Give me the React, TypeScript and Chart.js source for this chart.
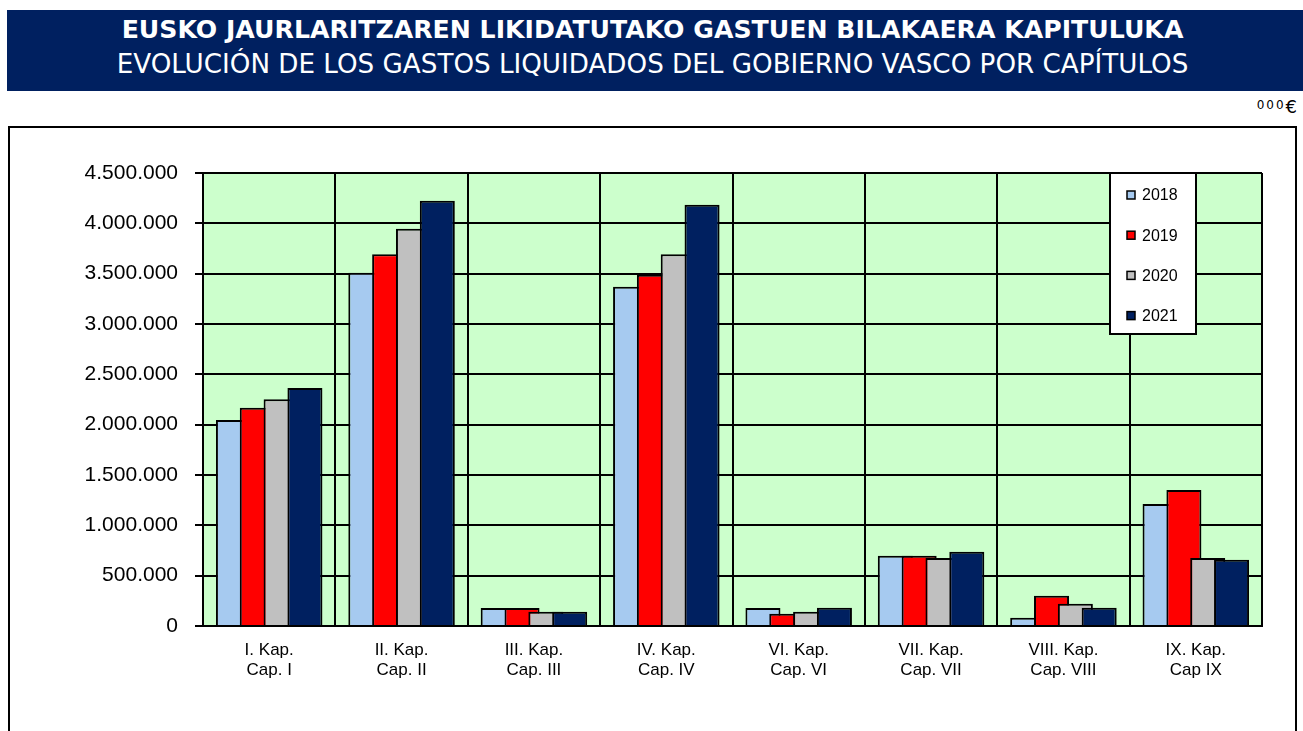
import React, { useEffect, useRef } from "react";
import { Chart, registerables } from "chart.js";

Chart.register(...registerables);

// ---------- data ----------
const categories: string[][] = [
  ["I. Kap.", "Cap. I"],
  ["II. Kap.", "Cap. II"],
  ["III. Kap.", "Cap. III"],
  ["IV. Kap.", "Cap. IV"],
  ["VI. Kap.", "Cap. VI"],
  ["VII. Kap.", "Cap. VII"],
  ["VIII. Kap.", "Cap. VIII"],
  ["IX. Kap.", "Cap IX"],
];

const seriesNames = ["2018", "2019", "2020", "2021"];

const values2018 = [2046000, 3510000, 179000, 3371000, 179000, 698000, 83000, 1212000];
const values2019 = [2169000, 3693000, 179000, 3490000, 122000, 698000, 301000, 1351000];
const values2020 = [2252000, 3947000, 142000, 3693000, 142000, 675000, 222000, 675000];
const values2021 = [2364000, 4225000, 142000, 4185000, 182000, 738000, 182000, 659000];

const yMin = 0;
const yMax = 4500000;
const yStep = 500000;

const titleLine1 = "EUSKO JAURLARITZAREN LIKIDATUTAKO GASTUEN BILAKAERA KAPITULUKA";
const titleLine2 = "EVOLUCIÓN DE LOS GASTOS LIQUIDADOS DEL GOBIERNO VASCO POR CAPÍTULOS";
const unitSmall = "000";
const unitSymbol = "€";

// ---------- styles ----------
const seriesColors = ["#A6CAF0", "#FF0000", "#C0C0C0", "#002060"];
const NAVY = "#002060";
const PLOT_BG = "#CCFFCC";
const AXIS_FONT = "'Liberation Sans', Arial, sans-serif";

const fmt = (v: number) => String(v).replace(/\B(?=(\d{3})+(?!\d))/g, ".");

const plotBgPlugin = {
  id: "plotBg",
  beforeDraw(chart: any) {
    const { ctx, chartArea } = chart;
    ctx.save();
    ctx.fillStyle = PLOT_BG;
    ctx.fillRect(chartArea.left, chartArea.top, chartArea.right - chartArea.left, chartArea.bottom - chartArea.top);
    ctx.restore();
  },
};

// draw datasets first-to-last so later years overlap earlier ones
const drawOrderPlugin = {
  id: "drawOrder",
  beforeDatasetsDraw(chart: any) {
    const n = chart.data.datasets.length;
    for (let i = 0; i < n; i++) {
      const meta = chart.getDatasetMeta(i);
      if (chart.isDatasetVisible(i)) meta.controller.draw();
    }
    return false;
  },
};

const boxLegendPlugin = {
  id: "boxLegend",
  afterDraw(chart: any) {
    const { ctx, chartArea } = chart;
    const left = chartArea.right - 152;
    const top = chartArea.top;
    const w = 86;
    const h = 161;
    ctx.save();
    ctx.fillStyle = "#fff";
    ctx.fillRect(left, top, w, h);
    ctx.strokeStyle = "#000";
    ctx.lineWidth = 2;
    ctx.strokeRect(left, top, w, h);
    ctx.font = `16px ${AXIS_FONT}`;
    ctx.textBaseline = "middle";
    ctx.textAlign = "left";
    chart.data.datasets.forEach((ds: any, i: number) => {
      const cy = top + 22 + i * 40.2;
      ctx.fillStyle = ds.backgroundColor;
      ctx.fillRect(left + 17, cy - 4, 8, 8);
      ctx.lineWidth = 1.5;
      ctx.strokeStyle = "#000";
      ctx.strokeRect(left + 17, cy - 4, 8, 8);
      ctx.fillStyle = "#000";
      ctx.fillText(ds.label, left + 32, cy + 1);
    });
    ctx.restore();
  },
};

function ChartCanvas() {
  const ref = useRef<HTMLCanvasElement | null>(null);
  useEffect(() => {
    if (!ref.current) return;
    const seriesValues = [values2018, values2019, values2020, values2021];
    const chart = new Chart(ref.current, {
      type: "bar",
      data: {
        labels: categories,
        datasets: seriesNames.map((name, i) => ({
          label: name,
          data: seriesValues[i],
          backgroundColor: seriesColors[i],
          borderColor: "#000",
          borderWidth: 2,
          categoryPercentage: 0.72,
          barPercentage: 1.47,
        })),
      },
      options: {
        responsive: false,
        animation: false,
        events: [],
        layout: { padding: { left: 0, top: 45, right: 32, bottom: 0 } },
        plugins: {
          legend: { display: false },
          tooltip: { enabled: false },
          title: { display: false },
        },
        scales: {
          x: {
            offset: true,
            grid: {
              offset: true,
              color: "#000",
              lineWidth: 2,
              drawTicks: false,
            },
            border: { color: "#000", width: 2, z: 1 },
            ticks: {
              color: "#000",
              font: { family: AXIS_FONT, size: 17, lineHeight: "20px" },
              padding: 14,
              maxRotation: 0,
              autoSkip: false,
            },
            afterFit: (scale: any) => {
              scale.height = 105;
            },
          },
          y: {
            min: yMin,
            max: yMax,
            grid: {
              color: "#000",
              lineWidth: 2,
              drawTicks: true,
              tickLength: 8,
              tickColor: "#000",
              tickWidth: 2,
            },
            border: { color: "#000", width: 2, z: 1 },
            ticks: {
              stepSize: yStep,
              color: "#000",
              font: { family: AXIS_FONT, size: 21 },
              padding: 17,
              callback: (v: any) => fmt(Number(v)),
            },
            afterFit: (scale: any) => {
              scale.width = 193;
            },
          },
        },
      },
      plugins: [plotBgPlugin, drawOrderPlugin, boxLegendPlugin],
    });
    return () => chart.destroy();
  }, []);
  return <canvas ref={ref} width={1284} height={603} style={{ display: "block" }} />;
}

export default function App() {
  return (
    <div
      style={{
        position: "absolute",
        left: 0,
        top: 0,
        width: 1303,
        height: 731,
        overflow: "hidden",
        background: "#fff",
      }}
    >
      <div style={{ position: "absolute", left: 7, top: 10, width: 1296, height: 81, background: NAVY }} />
      <div
        style={{
          position: "absolute",
          left: 0,
          top: 15,
          width: 1305,
          textAlign: "center",
          color: "#fff",
          fontFamily: "'DejaVu Sans', Verdana, sans-serif",
          fontWeight: "bold",
          fontSize: 25.2,
          lineHeight: "30px",
          whiteSpace: "nowrap",
        }}
      >
        {titleLine1}
      </div>
      <div
        style={{
          position: "absolute",
          left: 0,
          top: 48.5,
          width: 1305,
          textAlign: "center",
          color: "#fff",
          fontFamily: "'DejaVu Sans', Verdana, sans-serif",
          fontSize: 26.2,
          lineHeight: "30px",
          whiteSpace: "nowrap",
        }}
      >
        {titleLine2}
      </div>
      <div
        style={{
          position: "absolute",
          left: 1150,
          top: 97,
          width: 147,
          textAlign: "right",
          color: "#000",
          fontFamily: "'DejaVu Sans', Verdana, sans-serif",
          fontSize: 18,
          lineHeight: "20px",
          whiteSpace: "nowrap",
        }}
      >
        <span style={{ fontSize: 12, letterSpacing: 2, position: "relative", top: -4 }}>{unitSmall}</span>
        {unitSymbol}
      </div>
      <div
        style={{
          position: "absolute",
          left: 8,
          top: 126,
          width: 1285,
          height: 640,
          border: "2px solid #000",
          boxSizing: "content-box",
        }}
      >
        <ChartCanvas />
      </div>
    </div>
  );
}
